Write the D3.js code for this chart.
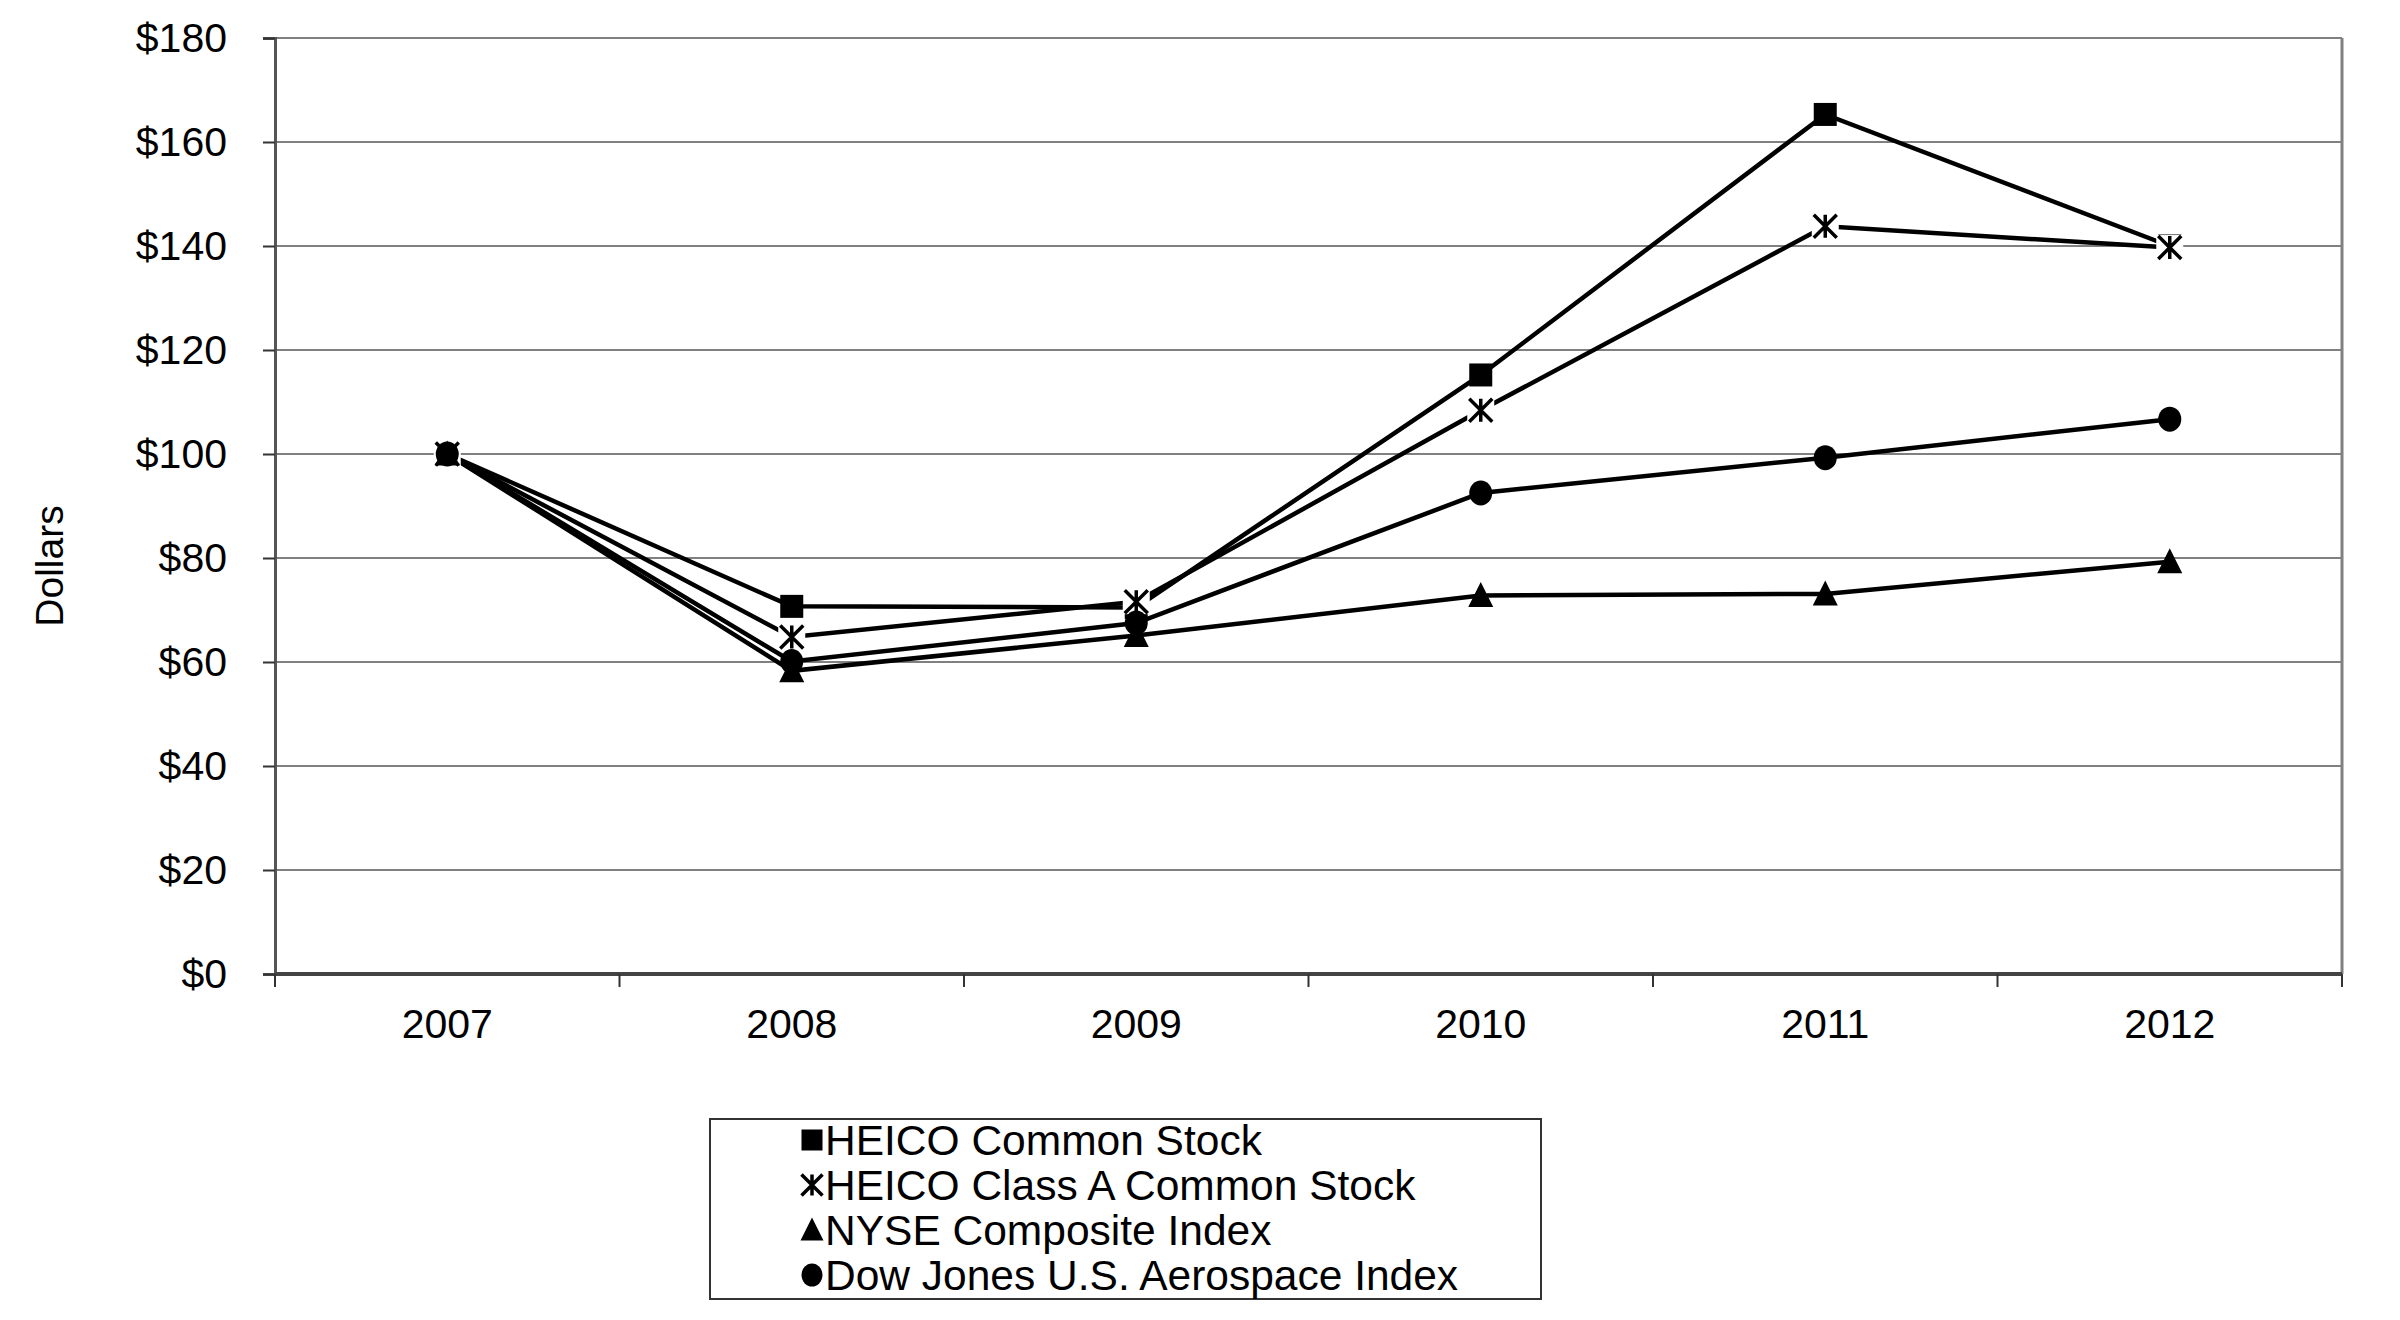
<!DOCTYPE html>
<html>
<head>
<meta charset="utf-8">
<script src="https://cdn.jsdelivr.net/npm/d3@7"></script>
<style>
  body { margin: 0; background: #fff; }
  text { font-family: "Liberation Sans", Arial, sans-serif; fill: #000; }
</style>
</head>
<body>
<div id="chart"></div>
<script>
// chart data
var years = ["2007", "2008", "2009", "2010", "2011", "2012"];
var heicoCommon = [100, 70.7, 70.5, 115.2, 165.3, 140.0];
var heicoClassA = [100, 64.8, 71.6, 108.4, 143.8, 139.7];
var nyseComposite = [100, 58.3, 65.1, 72.8, 73.1, 79.3];
var dowJonesAero = [100, 60.1, 67.5, 92.5, 99.3, 106.7];
var yTicks = [0, 20, 40, 60, 80, 100, 120, 140, 160, 180];

var seriesNames = ["HEICO Common Stock", "HEICO Class A Common Stock", "NYSE Composite Index", "Dow Jones U.S. Aerospace Index"];
var seriesValues = [heicoCommon, heicoClassA, nyseComposite, dowJonesAero];
var seriesMarks = ["square", "asterisk", "triangle", "circle"];

var W = 2400, H = 1320;
var margin = {left: 275, right: 58, top: 38, bottom: 346};

var svg = d3.select("#chart").append("svg")
    .attr("width", W)
    .attr("height", H);

var x = d3.scaleBand()
    .domain(years)
    .range([margin.left, W - margin.right]);

var y = d3.scaleLinear()
    .domain([0, 180])
    .range([H - margin.bottom, margin.top]);

// gridlines
svg.append("g").selectAll("line")
    .data(yTicks.slice(1))
    .enter().append("line")
    .attr("x1", margin.left)
    .attr("x2", W - margin.right)
    .attr("y1", function(d) { return y(d); })
    .attr("y2", function(d) { return y(d); })
    .attr("stroke", "#808080")
    .attr("stroke-width", 2);

// right border
svg.append("line")
    .attr("x1", W - margin.right).attr("x2", W - margin.right)
    .attr("y1", y(180)).attr("y2", y(0))
    .attr("stroke", "#808080").attr("stroke-width", 3);

// y axis
var yAxis = d3.axisLeft(y)
    .tickValues(yTicks)
    .tickSize(12)
    .tickPadding(36)
    .tickFormat(function(d) { return "$" + d; });

var gy = svg.append("g")
    .attr("transform", "translate(" + margin.left + ",0)")
    .call(yAxis);
gy.select(".domain").attr("stroke", "#555").attr("stroke-width", 3);
gy.selectAll(".tick line").attr("stroke", "#333").attr("stroke-width", 2);
gy.selectAll(".tick text").style("font-size", "41px").attr("fill", "#000");

// x axis: ticks sit between the categories
var gx = svg.append("g")
    .attr("transform", "translate(0," + y(0) + ")");
gx.append("line")
    .attr("x1", margin.left).attr("x2", W - margin.right)
    .attr("y1", 0).attr("y2", 0)
    .attr("stroke", "#444").attr("stroke-width", 4);
var bounds = years.map(function(d) { return x(d); }).concat([W - margin.right]);
gx.selectAll("line.tk")
    .data(bounds)
    .enter().append("line")
    .attr("class", "tk")
    .attr("x1", function(d) { return d; })
    .attr("x2", function(d) { return d; })
    .attr("y1", 0).attr("y2", 13)
    .attr("stroke", "#333").attr("stroke-width", 2);
gx.selectAll("text")
    .data(years)
    .enter().append("text")
    .attr("x", function(d) { return x(d) + x.bandwidth() / 2; })
    .attr("y", 64)
    .attr("text-anchor", "middle")
    .style("font-size", "41px")
    .text(function(d) { return d; });

// y title
svg.append("text")
    .attr("transform", "translate(63,566) rotate(-90)")
    .attr("text-anchor", "middle")
    .style("font-size", "39px")
    .text("Dollars");

function drawMark(g, kind, s) {
    if (kind == "square") {
        g.append("rect").attr("x", -s / 2).attr("y", -s / 2).attr("width", s).attr("height", s).attr("fill", "#000");
    } else if (kind == "circle") {
        g.append("ellipse").attr("rx", s / 2).attr("ry", s / 2 + 1).attr("fill", "#000");
    } else if (kind == "triangle") {
        g.append("path").attr("d", "M0," + (-s / 2 - 2) + "L" + (s / 2 + 1) + "," + (s / 2) + "L" + (-s / 2 - 1) + "," + (s / 2) + "Z").attr("fill", "#000");
    } else {
        var h = s / 2;
        g.append("rect").attr("x", -h - 2).attr("y", -h - 1).attr("width", s + 4).attr("height", s + 2).attr("fill", "#fff");
        g.append("path")
            .attr("d", "M0," + (-h) + "V" + h + "M" + (-h) + "," + (-h) + "L" + h + "," + h + "M" + h + "," + (-h) + "L" + (-h) + "," + h)
            .attr("stroke", "#000").attr("stroke-width", 3.5).attr("fill", "none");
    }
}

var line = d3.line()
    .x(function(d, i) { return x(years[i]) + x.bandwidth() / 2; })
    .y(function(d) { return y(d); });

seriesValues.forEach(function(vals, si) {
    svg.append("path")
        .datum(vals)
        .attr("d", line)
        .attr("fill", "none")
        .attr("stroke", "#000")
        .attr("stroke-width", 4.5);
});

seriesValues.forEach(function(vals, si) {
    vals.forEach(function(v, i) {
        var g = svg.append("g")
            .attr("transform", "translate(" + (x(years[i]) + x.bandwidth() / 2) + "," + y(v) + ")");
        drawMark(g, seriesMarks[si], 23);
    });
});

// legend
var lg = svg.append("g").attr("transform", "translate(710,1119)");
lg.append("rect")
    .attr("width", 831).attr("height", 180)
    .attr("fill", "#fff").attr("stroke", "#333").attr("stroke-width", 2);
seriesNames.forEach(function(name, i) {
    var row = lg.append("g").attr("transform", "translate(0," + (21 + i * 45) + ")");
    var m = row.append("g").attr("transform", "translate(102,0)");
    drawMark(m, seriesMarks[i], 21);
    row.append("text")
        .attr("x", 115)
        .attr("y", 15)
        .style("font-size", "42.5px")
        .text(name);
});
</script>
</body>
</html>
